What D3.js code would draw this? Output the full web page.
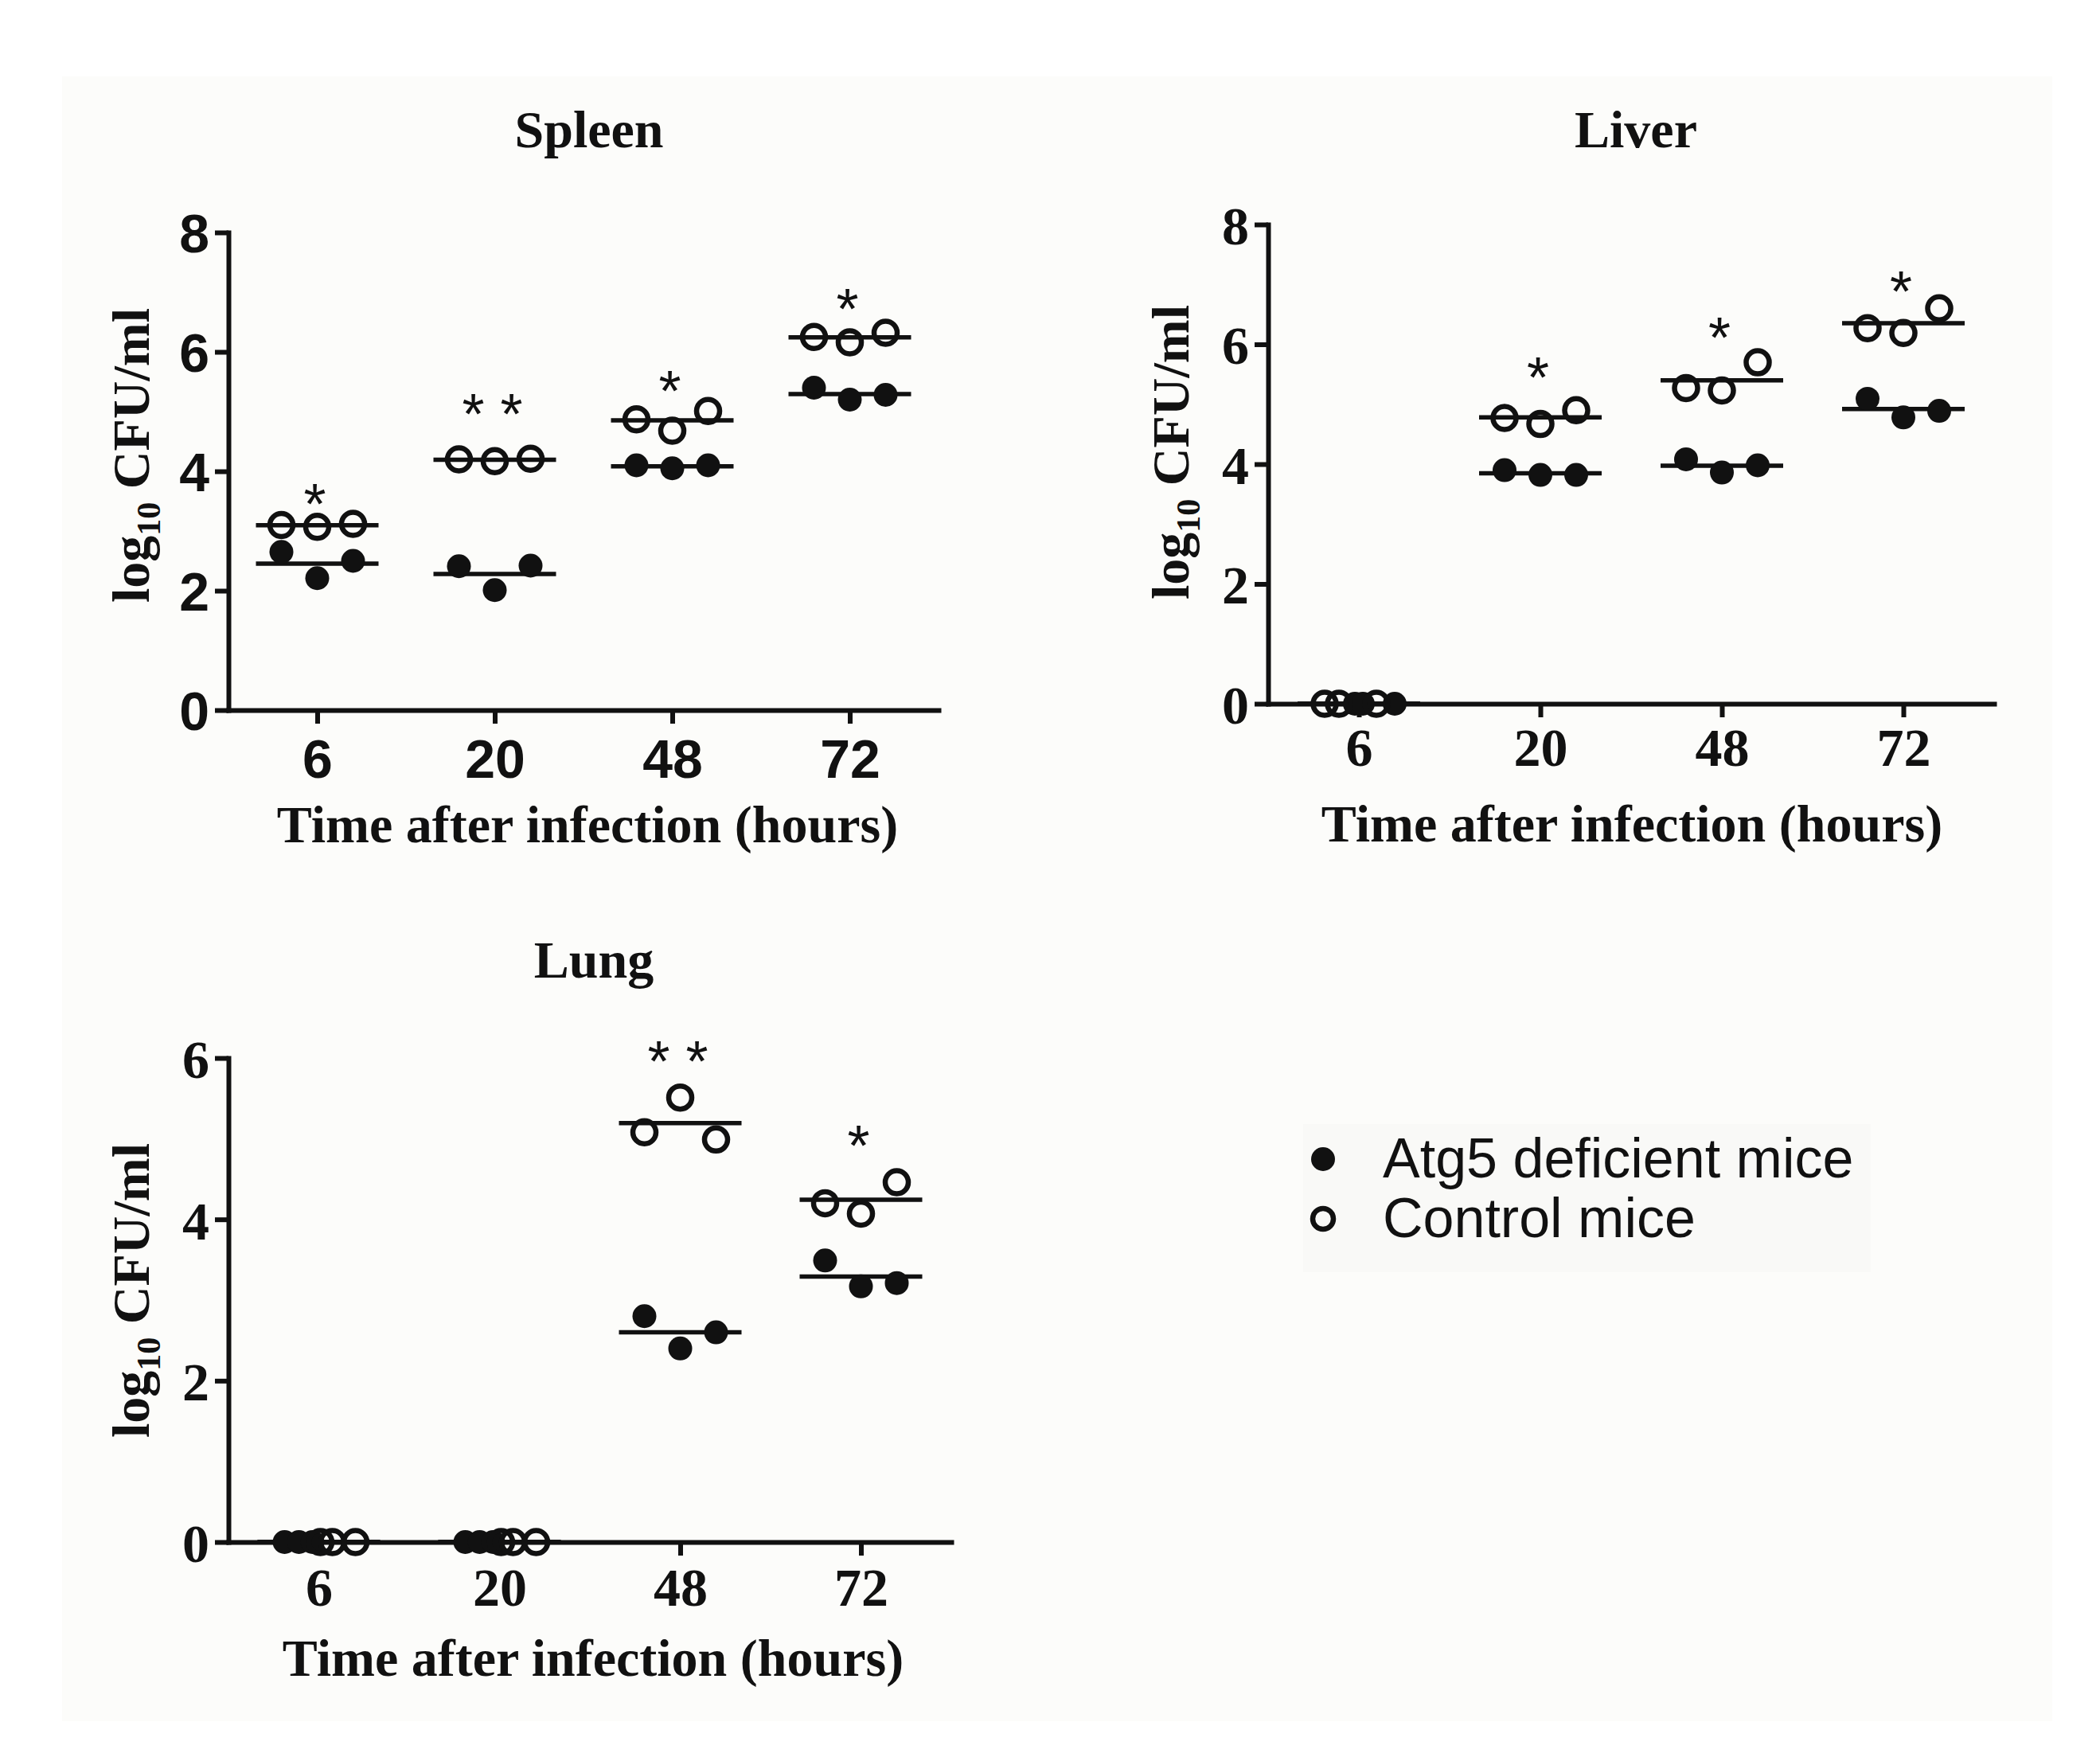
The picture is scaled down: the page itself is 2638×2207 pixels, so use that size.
<!DOCTYPE html>
<html lang="en">
<head>
<meta charset="UTF-8">
<title>Bacterial load in Atg5 deficient and control mice</title>
<style>
  body { margin: 0; background: #fff; }
  svg { display: block; }
  .serif { font-family: "Liberation Serif", "Times New Roman", serif; font-weight: bold; }
  .sans { font-family: "Liberation Sans", Arial, sans-serif; }
</style>
</head>
<body>
<svg id="chart" width="2638" height="2207"></svg>
<script src="https://d3js.org/d3.v7.min.js"></script>
<script>
// time points (hours after infection)
const hours = ["6", "20", "48", "72"];

// log10 CFU/ml, three mice per time point
const spleenAtg5    = [[2.65, 2.21, 2.50], [2.41, 2.01, 2.42], [4.10, 4.05, 4.10], [5.40, 5.20, 5.28]];
const spleenControl = [[3.10, 3.07, 3.12], [4.20, 4.17, 4.21], [4.87, 4.68, 5.01], [6.25, 6.16, 6.32]];
const spleenStars   = ["*", "* *", "*", "*"];
const spleenStarAt  = [3.67, 5.17, 5.56, 6.94];

const liverAtg5     = [[0, 0, 0], [3.90, 3.82, 3.82], [4.08, 3.86, 3.98], [5.09, 4.78, 4.89]];
const liverControl  = [[0, 0, 0], [4.77, 4.67, 4.90], [5.27, 5.23, 5.70], [6.27, 6.19, 6.60]];
const liverStars    = ["", "*", "*", "*"];
const liverStarAt   = [null, 5.66, 6.33, 7.09];

const lungAtg5      = [[0, 0, 0], [0, 0, 0], [2.80, 2.40, 2.60], [3.49, 3.17, 3.21]];
const lungControl   = [[0, 0, 0], [0, 0, 0], [5.08, 5.51, 4.99], [4.20, 4.07, 4.46]];
const lungStars     = ["", "", "* *", "*"];
const lungStarAt    = [null, null, 6.12, 5.07];

const legendLabels  = ["Atg5 deficient mice", "Control mice"];

const ink = "#111";
const svg = d3.select("#chart");

// faint page background like the scanned figure
svg.append("rect").attr("x", 78).attr("y", 96).attr("width", 2500).attr("height", 2066)
  .attr("fill", "#fcfcfa");

function drawPanel(cfg, atg5, control, stars, starAt) {
  const g = svg.append("g");
  const x = d3.scalePoint().domain(hours).range([cfg.x0, cfg.x1]).padding(0.5);
  const y = d3.scaleLinear().domain([0, cfg.yMax]).range([cfg.yBase, cfg.yTop]);

  const tickClass = cfg.sansTicks ? "sans" : "serif";
  const tickFont = cfg.sansTicks ? 68 : 68;

  // y axis
  const ya = g.append("g").attr("transform", `translate(${cfg.x0},0)`)
    .call(d3.axisLeft(y).tickValues(d3.range(0, cfg.yMax + 1, 2)).tickFormat(d3.format("d"))
      .tickSize(17).tickSizeOuter(0).tickPadding(7));
  // x axis
  const xa = g.append("g").attr("transform", `translate(0,${cfg.yBase})`)
    .call(d3.axisBottom(x).tickSize(17).tickSizeOuter(0));

  [ya, xa].forEach(a => {
    a.select(".domain").attr("stroke", ink).attr("stroke-width", 6).attr("stroke-linecap", "square");
    a.selectAll(".tick line").attr("stroke", ink).attr("stroke-width", 6);
    a.selectAll("text").attr("class", tickClass)
      .style("font-weight", "bold").attr("font-size", tickFont).attr("fill", ink);
  });
  ya.selectAll("text").attr("dy", "0.36em");
  xa.selectAll("text").attr("dy", null).attr("y", cfg.xLabelDy);

  // mean lines
  const lines = [];
  hours.forEach((h, i) => {
    lines.push({ h: h, m: d3.mean(atg5[i]) });
    lines.push({ h: h, m: d3.mean(control[i]) });
  });
  g.selectAll(".mean").data(lines).enter().append("line")
    .attr("x1", d => x(d.h) - 77).attr("x2", d => x(d.h) + 77)
    .attr("y1", d => y(d.m)).attr("y2", d => y(d.m))
    .attr("stroke", ink).attr("stroke-width", 5.5);

  // scatter points
  function pts(series, zeroOffsets) {
    const out = [];
    hours.forEach((h, i) => {
      const allZero = atg5[i].every(v => v === 0) && control[i].every(v => v === 0);
      series[i].forEach((v, j) => {
        const dx = allZero ? zeroOffsets[j] : [-45, 0, 45][j];
        out.push({ h: h, v: v, dx: dx });
      });
    });
    return out;
  }
  g.selectAll(".filled").data(pts(atg5, cfg.zeroFilled)).enter().append("circle")
    .attr("cx", d => x(d.h) + d.dx).attr("cy", d => y(d.v)).attr("r", 15)
    .attr("fill", ink);
  g.selectAll(".open").data(pts(control, cfg.zeroOpen)).enter().append("circle")
    .attr("cx", d => x(d.h) + d.dx).attr("cy", d => y(d.v)).attr("r", 14.5)
    .attr("fill", "none").attr("stroke", ink).attr("stroke-width", 6.5);

  // significance marks
  const marks = hours.map((h, i) => ({ h: h, s: stars[i], v: starAt[i] })).filter(d => d.s);
  g.selectAll(".star").data(marks).enter().append("text")
    .attr("class", "sans").attr("font-size", 72).attr("fill", ink)
    .attr("text-anchor", "middle")
    .attr("x", d => x(d.h) - 3).attr("y", d => y(d.v) + 41)
    .style("white-space", "pre")
    .text(d => d.s);

  // panel title
  g.append("text").attr("class", "serif").attr("font-size", 66).attr("fill", ink)
    .attr("text-anchor", "middle").attr("x", cfg.titleX).attr("y", cfg.titleY).text(cfg.title);

  // x axis title
  g.append("text").attr("class", "serif").attr("font-size", 66).attr("fill", ink)
    .attr("text-anchor", "middle").attr("x", cfg.xTitleX).attr("y", cfg.xTitleY)
    .text("Time after infection (hours)");

  // y axis title with subscript
  const yt = g.append("text").attr("class", "serif").attr("font-size", 66).attr("fill", ink)
    .attr("text-anchor", "middle")
    .attr("transform", `translate(${cfg.yTitleX},${cfg.yTitleY}) rotate(-90)`);
  yt.append("tspan").text("log");
  yt.append("tspan").attr("font-size", 42).attr("dy", 14).text("10");
  yt.append("tspan").attr("dy", -14).text(" CFU/ml");
}

drawPanel({
  title: "Spleen", x0: 287, x1: 1179, yBase: 892, yTop: 292, yMax: 8, sansTicks: true,
  xLabelDy: 85, titleX: 740, titleY: 185, xTitleX: 738, xTitleY: 1058,
  yTitleX: 187, yTitleY: 572, zeroFilled: [-45, 0, 45], zeroOpen: [-45, 0, 45]
}, spleenAtg5, spleenControl, spleenStars, spleenStarAt);

drawPanel({
  title: "Liver", x0: 1593, x1: 2505, yBase: 884, yTop: 282, yMax: 8, sansTicks: false,
  xLabelDy: 78, titleX: 2055, titleY: 185, xTitleX: 2050, xTitleY: 1057,
  yTitleX: 1493, yTitleY: 568, zeroFilled: [-5, 5, 45], zeroOpen: [-43, -25, 22]
}, liverAtg5, liverControl, liverStars, liverStarAt);

drawPanel({
  title: "Lung", x0: 287, x1: 1195, yBase: 1937, yTop: 1329, yMax: 6, sansTicks: false,
  xLabelDy: 80, titleX: 746, titleY: 1228, xTitleX: 745, xTitleY: 2105,
  yTitleX: 187, yTitleY: 1621, zeroFilled: [-43, -25, -8], zeroOpen: [2, 17, 46]
}, lungAtg5, lungControl, lungStars, lungStarAt);

// legend
const lg = svg.append("g");
lg.append("rect").attr("x", 1637).attr("y", 1412).attr("width", 713).attr("height", 186)
  .attr("fill", "#f9f9f7");
lg.selectAll("circle").data(legendLabels).enter().append("circle")
  .attr("cx", 1662).attr("cy", (d, i) => 1456 + i * 75)
  .attr("r", (d, i) => i === 0 ? 15 : 13)
  .attr("fill", (d, i) => i === 0 ? ink : "none")
  .attr("stroke", (d, i) => i === 0 ? "none" : ink)
  .attr("stroke-width", 6.5);
lg.selectAll("text").data(legendLabels).enter().append("text")
  .attr("class", "sans").attr("font-size", 70).attr("fill", ink)
  .attr("x", 1737).attr("y", (d, i) => 1479 + i * 75)
  .text(d => d);
</script>
</body>
</html>
